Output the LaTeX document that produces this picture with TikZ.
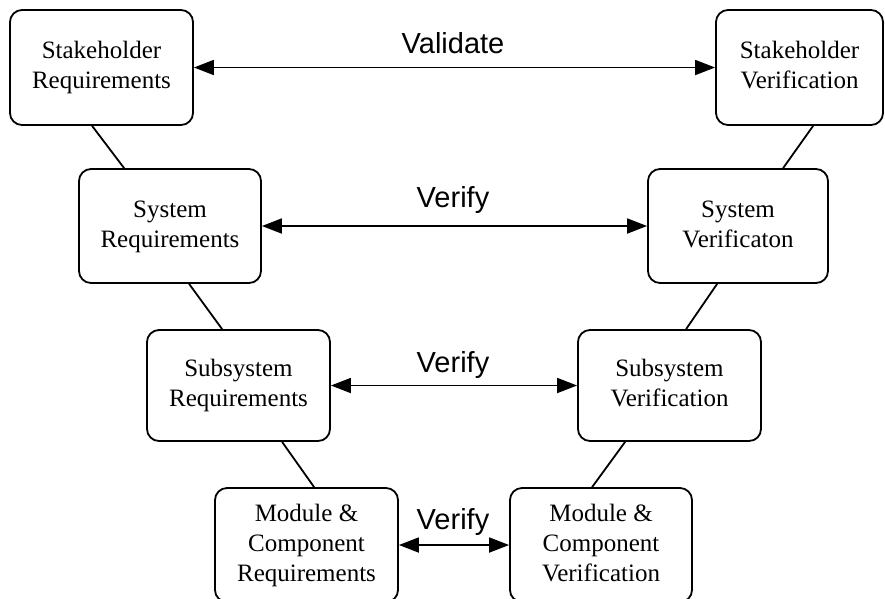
\documentclass[tikz,border=0pt]{standalone}
\usepackage{fontspec}
\setmainfont{Liberation Serif}
\newfontfamily\labelfont{Liberation Sans}
\usetikzlibrary{arrows.meta}

\tikzset{
  stagebox/.style={draw=black, line width=1.8pt, rounded corners=12pt,
    fill=white, inner sep=0pt, align=center,
    font=\fontsize{25}{30}\selectfont},
  linkline/.style={line width=1.8pt},
  checkarrow/.style={line width=1.8pt,
    {Triangle[length=20pt,width=15pt]}-{Triangle[length=20pt,width=15pt]}},
  checklabel/.style={anchor=base, inner sep=0pt,
    font=\labelfont\fontsize{29}{32}\selectfont}
}

\begin{document}
\begin{tikzpicture}[x=1pt, y=-1pt]
  \useasboundingbox[fill=white] (0,0) rectangle (885,598);

  % left leg: requirements
  \node[stagebox, minimum width=183pt, minimum height=115pt] (b1) at (101.5,67.5) {\strut Stakeholder\\Requirements\strut};
  \node[stagebox, minimum width=182pt, minimum height=114pt] (b3) at (170,226) {\strut System\\Requirements\strut};
  \node[stagebox, minimum width=183pt, minimum height=111pt] (b5) at (238.5,385.5) {\strut Subsystem\\Requirements\strut};
  \node[stagebox, minimum width=183pt, minimum height=114pt] (b7) at (306.5,545) {\strut Module \&\\Component\\Requirements\strut};

  % right leg: verification
  \node[stagebox, minimum width=167pt, minimum height=115pt] (b2) at (799.5,67.5) {\strut Stakeholder\\Verification\strut};
  \node[stagebox, minimum width=180pt, minimum height=114pt] (b4) at (738,226) {\strut System\\Verificaton\strut};
  \node[stagebox, minimum width=183pt, minimum height=111pt] (b6) at (669.5,385.5) {\strut Subsystem\\Verification\strut};
  \node[stagebox, minimum width=182pt, minimum height=114pt] (b8) at (601,545) {\strut Module \&\\Component\\Verification\strut};

  % links down each leg
  \draw[linkline] ([xshift=83pt]b1.south west) -- ([xshift=46pt]b3.north west);
  \draw[linkline] ([xshift=111pt]b3.south west) -- ([xshift=76pt]b5.north west);
  \draw[linkline] ([xshift=136pt]b5.south west) -- ([xshift=100pt]b7.north west);
  \draw[linkline] ([xshift=98pt]b2.south west) -- ([xshift=136pt]b4.north west);
  \draw[linkline] ([xshift=70pt]b4.south west) -- ([xshift=109pt]b6.north west);
  \draw[linkline] ([xshift=48pt]b6.south west) -- ([xshift=83pt]b8.north west);

  % validation and verification arrows across the V
  \draw[checkarrow] (b1.east) -- (b2.west);
  \draw[checkarrow] (b3.east) -- (b4.west);
  \draw[checkarrow] (b5.east) -- (b6.west);
  \draw[checkarrow] (b7.east) -- (b8.west);

  \node[checklabel] (l1) at (453,53) {Validate};
  \node[checklabel] (l2) at (453,207) {Verify};
  \node[checklabel] (l3) at (453,372) {Verify};
  \node[checklabel] (l4) at (453,529) {Verify};
\end{tikzpicture}
\end{document}
